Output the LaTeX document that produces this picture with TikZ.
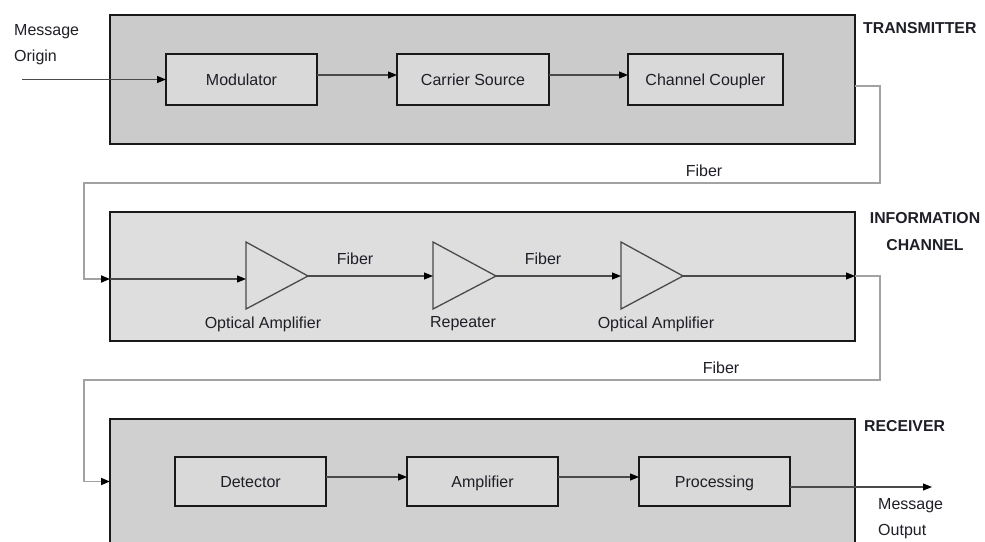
\documentclass[tikz,border=0pt]{standalone}
\usepackage{fontspec}
\setmainfont{Liberation Sans}
\usetikzlibrary{arrows.meta}

\definecolor{txfill}{HTML}{CBCBCB}
\definecolor{icfill}{HTML}{DEDEDE}
\definecolor{rxfill}{HTML}{D0D0D0}
\definecolor{blockfill}{HTML}{D9D9D9}
\definecolor{inkgray}{HTML}{1E1E26}
\definecolor{linkgray}{HTML}{4A4A4A}
\definecolor{fibergray}{HTML}{A2A2A2}

\tikzset{
  panel/.style={draw=black!90, line width=1.5pt, anchor=north west,
    inner sep=0pt, outer sep=0pt},
  block/.style={draw=black!90, line width=1.4pt, fill=blockfill,
    minimum height=51pt, inner sep=0pt, outer sep=0pt, text=inkgray,
    text height=13pt, text depth=1.6pt},
  amp/.style={draw=linkgray, line width=1.3pt, fill=icfill, line join=miter},
  link/.style={draw=linkgray, line width=1.1pt,
    -{Triangle[length=9pt,width=7pt,color=black]}},
  fiber/.style={draw=fibergray, line width=1.7pt,
    -{Triangle[length=9pt,width=7pt,color=black]}},
  lbl/.style={text=inkgray, inner sep=0pt},
  heading/.style={text=inkgray, inner sep=0pt, font=\fontsize{15.8}{27}\selectfont\bfseries,
    align=center},
}

\begin{document}
\begin{tikzpicture}[x=1pt,y=-1pt,font=\fontsize{16}{26.5}\selectfont]
\useasboundingbox (0,0) rectangle (985,541);
\clip (0,0) rectangle (985,541);

% stage panels
\node[panel, fill=txfill, minimum width=745pt, minimum height=129pt] (tx) at (110,15) {};
\node[panel, fill=icfill, minimum width=745pt, minimum height=129pt] (ic) at (110,212) {};
\node[panel, fill=rxfill, minimum width=745pt, minimum height=150pt] (rx) at (110,419) {};

% stage headings
\node[heading, anchor=west] (txh) at (863,28) {TRANSMITTER};
\node[heading] (ich) at (925,232) {INFORMATION\\CHANNEL};
\node[heading, anchor=west] (rxh) at (864,426) {RECEIVER};

% transmitter blocks
\node[block, minimum width=151pt] (mod) at (241.5,79.5) {Modulator};
\node[block, minimum width=152pt] (car) at (473,79.5) {Carrier Source};
\node[block, minimum width=155pt] (cpl) at (705.5,79.5) {Channel Coupler};

% receiver blocks
\node[block, minimum width=151pt, minimum height=49pt] (det) at (250.5,481.5) {Detector};
\node[block, minimum width=151pt, minimum height=49pt] (amp) at (482.5,481.5) {Amplifier};
\node[block, minimum width=151pt, minimum height=49pt] (proc) at (714.5,481.5) {Processing};

% amplifier triangles in the information channel
\draw[amp] (246,242) -- (308,276) -- (246,309) -- cycle;
\draw[amp] (433,242) -- (496,276) -- (433,309) -- cycle;
\draw[amp] (621,242) -- (683,276) -- (621,309) -- cycle;
\coordinate (oa1in) at (246,279);
\coordinate (oa1out) at (308,276);
\coordinate (repin) at (433,276);
\coordinate (repout) at (496,276);
\coordinate (oa2in) at (621,276);
\coordinate (oa2out) at (683,276);
\coordinate (icin) at (110,279);
\coordinate (icout) at (855,276);

\node[lbl] (oa1l) at (263,324) {Optical Amplifier};
\node[lbl] (repl) at (463,324) {Repeater};
\node[lbl] (oa2l) at (656,324) {Optical Amplifier};
\node[lbl] (fb1) at (355,259) {Fiber};
\node[lbl] (fb2) at (543,259) {Fiber};

% message origin and output
\coordinate (src) at (22,79.5);
\node[lbl, align=left, anchor=north west] (orig) at (14,24) {Message\\Origin};
\coordinate (sink) at (932,487);
\node[lbl, align=left, anchor=north west] (outl) at (878,498) {Message\\Output};

% signal path inside transmitter
\draw[link] (src) -- (mod.west);
\draw[link] ([yshift=4.5pt]mod.east) -- ([yshift=4.5pt]car.west);
\draw[link] ([yshift=4.5pt]car.east) -- ([yshift=4.5pt]cpl.west);

% fiber from transmitter to information channel
\node[lbl] (fbt) at (704,171) {Fiber};
\draw[fiber] ([yshift=-6.5pt]tx.east) -- ++(25,0) -- ++(0,97) -- (84,183) -- (84,279) -- (icin);

% signal path inside information channel
\draw[link] (icin) -- (oa1in);
\draw[link] (oa1out) -- (repin);
\draw[link] (repout) -- (oa2in);
\draw[link] (oa2out) -- (icout);

% fiber from information channel to receiver
\node[lbl] (fbr) at (721,368) {Fiber};
\draw[fiber] (icout) -- ++(25,0) -- ++(0,104) -- (84,380) -- (84,481.5) -- (det.west -| rx.west);

% signal path inside receiver
\draw[link] ([yshift=4.5pt]det.east) -- ([yshift=4.5pt]amp.west);
\draw[link] ([yshift=4.5pt]amp.east) -- ([yshift=4.5pt]proc.west);
\draw[link] ([yshift=-5.5pt]proc.east) -- (sink);
\end{tikzpicture}
\end{document}
